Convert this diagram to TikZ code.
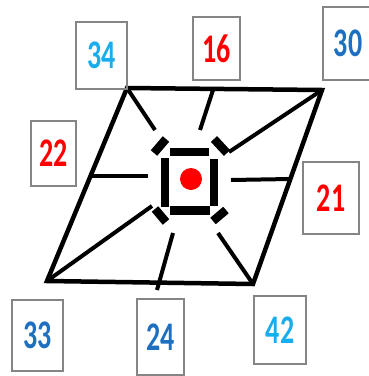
\documentclass[tikz,border=0pt]{standalone}
\usepackage{fontspec}
\setmainfont{Carlito}
\usepackage{graphicx}
\usepackage{tikz}
\usepackage{xcolor}
\definecolor{lightblue}{HTML}{1AADEE}
\definecolor{darkblue}{HTML}{1F6FC0}
\definecolor{boxgray}{HTML}{858585}
\newcommand{\tallnum}[1]{\scalebox{1}[1.45]{\bfseries #1}}

\begin{document}
\begin{tikzpicture}[x=1pt, y=-1pt,
    numbox/.style={draw=boxgray, line width=1.4pt, inner sep=0pt, font=\fontsize{28}{30}\selectfont},
    edge/.style={line width=4.5pt, line join=miter},
    spoke/.style={line width=4pt},
    bar/.style={line width=8.5pt}]
    \useasboundingbox (0,0) rectangle (368,376);
    % frame
    \coordinate (tl) at (127,88);
    \coordinate (tr) at (322,90);
    \coordinate (br) at (253,284);
    \coordinate (bl) at (47,281);
    \draw[edge] (tl) -- (tr) -- (br) -- (bl) -- cycle;
    % centre square and corner pieces
    \draw[bar] (170,152) -- (209,152);
    \draw[bar] (170,210.5) -- (210,210.5);
    \draw[bar] (165,158) -- (165,207);
    \draw[bar] (214,159) -- (214,206);
    \draw[bar] (154,153) -- (166,139);
    \draw[bar] (214,139) -- (227,153);
    \draw[bar] (155,209) -- (166,222);
    \draw[bar] (213,221) -- (226,210);
    \fill[red] (191,179) circle (11pt);
    % spokes
    \coordinate (tlin) at (155,130);
    \coordinate (topmid) at (213,90);
    \coordinate (topin) at (200,130);
    \coordinate (trin) at (229,152);
    \coordinate (leftmid) at (90,176);
    \coordinate (leftin) at (148,176);
    \coordinate (rightin) at (231,180);
    \coordinate (rightmid) at (290,179);
    \coordinate (blin) at (152,206);
    \coordinate (botin) at (173,233);
    \coordinate (botout) at (157,290);
    \coordinate (brin) at (218,233);
    \draw[spoke] (tl) -- (tlin);
    \draw[spoke] (topmid) -- (topin);
    \draw[spoke] (tr) -- (trin);
    \draw[spoke] (leftmid) -- (leftin);
    \draw[spoke] (rightin) -- (rightmid);
    \draw[spoke] (bl) -- (blin);
    \draw[spoke] (botin) -- (botout);
    \draw[spoke] (brin) -- (br);
    % numbers
    \node[numbox, minimum width=51pt, minimum height=67pt, text=lightblue] (n34) at (101.5,55.5) {\tallnum{34}};
    \node[numbox, minimum width=47pt, minimum height=63pt, text=red] (n16) at (216.5,48.5) {\tallnum{16}};
    \node[numbox, minimum width=50pt, minimum height=73pt, text=darkblue] (n30) at (348,43.5) {\tallnum{30}};
    \node[numbox, minimum width=45pt, minimum height=65pt, text=red] (n22) at (53.5,153.5) {\tallnum{22}};
    \node[numbox, minimum width=56pt, minimum height=72pt, text=red] (n21) at (331,198) {\tallnum{21}};
    \node[numbox, minimum width=51pt, minimum height=71pt, text=darkblue] (n33) at (37.5,335.5) {\tallnum{33}};
    \node[numbox, minimum width=47pt, minimum height=76pt, text=darkblue] (n24) at (160.5,337) {\tallnum{24}};
    \node[numbox, minimum width=52pt, minimum height=68pt, text=lightblue] (n42) at (280,330) {\tallnum{42}};
\end{tikzpicture}
\end{document}
